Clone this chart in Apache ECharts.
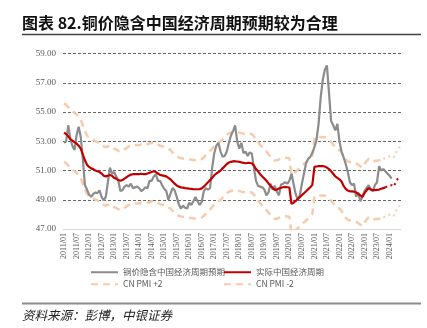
<!DOCTYPE html>
<html><head><meta charset="utf-8">
<script src="https://cdn.jsdelivr.net/npm/echarts@6/dist/echarts.min.js"></script>
<style>html,body{margin:0;padding:0;background:#fff}#c{width:427px;height:328px}</style>
</head><body><div id="c"></div>
<script>
// Monthly categories 2011/01 .. 2024/06
const categories = [];
for (let y = 2011; y <= 2024; y++) {
  for (let m = 1; m <= 12; m++) {
    if (y === 2024 && m > 6) break;
    categories.push(y + '/' + (m < 10 ? '0' + m : m));
  }
}
const yTicks = [47, 49, 51, 53, 55, 57, 59];

// 铜价隐含中国经济周期预期 (2011/01 .. 2024/02)
const copperImplied = [
  52.9, 53.0, 54.1, 53.2, 52.7, 52.4, 53.4, 54.0, 53.3, 51.8,
  50.0, 49.7, 49.35, 49.2, 49.4, 49.5, 49.45, 49.65, 49.2, 48.95,
  49.2, 50.2, 51.2, 50.8, 50.9, 50.6, 50.3, 49.6, 49.65, 49.9,
  50.0, 49.9, 50.1, 49.8, 49.85, 49.9, 49.8, 49.6, 49.7, 49.85,
  49.8, 50.3, 50.3, 50.6, 50.75, 50.3, 50.3, 50.0, 49.75, 49.6,
  49.0, 49.4, 49.8, 49.65, 49.2, 48.7, 48.4, 48.6, 48.45, 48.4,
  48.8, 48.65, 48.9, 49.2, 48.9, 48.65, 48.85, 49.6, 49.8, 49.7,
  49.8, 51.2, 52.2, 52.7, 52.9, 52.3, 51.95, 52.0, 52.3, 52.9,
  53.4, 53.7, 54.1, 53.0, 52.5, 52.9, 52.2, 52.3, 52.0, 52.25,
  52.15, 51.2, 50.3, 49.95, 49.9, 49.85, 49.7, 49.3, 49.5, 50.1,
  49.7, 49.95, 49.55, 49.3, 50.05, 50.1, 50.2, 50.1, 50.3, 50.8,
  50.1, 49.4, 49.0, 49.3, 50.1, 50.8, 51.5, 51.8, 51.95, 52.2,
  52.6, 53.1, 54.2, 56.0, 57.2, 57.9, 58.2, 56.3, 54.4, 54.1,
  53.75, 54.2, 53.0, 52.3, 51.9, 51.45, 50.9, 50.2, 50.0, 50.1,
  49.2, 49.5, 48.9, 49.2, 49.6, 49.8, 50.0, 49.7, 49.6, 50.0,
  50.2, 51.3, 51.0, 51.1, 50.95, 50.8, 50.65, 50.45
];

// 实际中国经济周期 (2011/01 .. 2023/11)
const actualCycle = [
  53.60, 53.50, 53.35, 53.15, 53.05, 52.95, 52.85, 52.70, 52.50, 52.10,
  51.70, 51.40, 51.25, 51.15, 51.10, 51.00, 50.95, 50.90, 50.80, 50.65,
  50.60, 50.65, 50.70, 50.65, 50.50, 50.45, 50.35, 50.30, 50.35, 50.45,
  50.55, 50.65, 50.72, 50.75, 50.75, 50.75, 50.75, 50.78, 50.75, 50.75,
  50.80, 50.85, 50.90, 50.95, 50.90, 50.80, 50.70, 50.67, 50.64, 50.60,
  50.50, 50.40, 50.25, 50.10, 49.98, 49.90, 49.85, 49.83, 49.80, 49.78,
  49.76, 49.75, 49.73, 49.72, 49.72, 49.73, 49.78, 49.90, 50.05, 50.20,
  50.35, 50.50, 50.68, 50.80, 50.90, 51.00, 51.15, 51.30, 51.45, 51.55,
  51.60, 51.63, 51.64, 51.62, 51.60, 51.56, 51.53, 51.50, 51.52, 51.52,
  51.50, 51.35, 51.10, 50.95, 50.75, 50.60, 50.45, 50.30, 50.12, 49.95,
  49.80, 49.68, 49.70, 49.77, 49.82, 49.86, 49.88, 49.86, 49.84, 48.72,
  48.80, 48.92, 49.05, 49.18, 49.32, 49.45, 49.58, 49.72, 49.86, 50.02,
  51.25, 51.28, 51.30, 51.30, 51.30, 51.28, 51.20, 51.10, 50.95, 50.78,
  50.60, 50.50, 50.40, 50.25, 49.95, 49.75, 49.63, 49.58, 49.57, 49.56,
  49.50, 49.40, 49.30, 49.20, 49.45, 49.65, 49.80, 49.70, 49.66, 49.66,
  49.68, 49.70, 49.75, 49.80, 49.85
];
// dotted continuation 2023/11 .. 2024/06
const actualCycleFcstStart = 154;
const actualCycleFcst = [49.85, 49.93, 49.98, 50.00, 49.90, 50.20, 50.45, 50.62];

// CN PMI +2 (2011/01 .. 2023/10)
const pmiPlus2 = [
  55.60, 55.50, 55.35, 55.15, 55.05, 54.95, 54.85, 54.70, 54.50, 54.10,
  53.70, 53.40, 53.25, 53.15, 53.10, 53.00, 52.95, 52.90, 52.80, 52.65,
  52.60, 52.65, 52.70, 52.65, 52.50, 52.45, 52.35, 52.30, 52.35, 52.45,
  52.55, 52.65, 52.72, 52.75, 52.75, 52.75, 52.75, 52.78, 52.75, 52.75,
  52.80, 52.85, 52.90, 52.95, 52.90, 52.80, 52.70, 52.67, 52.64, 52.60,
  52.50, 52.40, 52.25, 52.10, 51.98, 51.90, 51.85, 51.83, 51.80, 51.78,
  51.76, 51.75, 51.73, 51.72, 51.72, 51.73, 51.78, 51.90, 52.05, 52.20,
  52.35, 52.50, 52.68, 52.80, 52.90, 53.00, 53.15, 53.30, 53.45, 53.55,
  53.60, 53.63, 53.64, 53.62, 53.60, 53.56, 53.53, 53.50, 53.52, 53.52,
  53.50, 53.35, 53.10, 52.95, 52.75, 52.60, 52.45, 52.30, 52.12, 51.95,
  51.80, 51.68, 51.70, 51.77, 51.82, 51.86, 51.88, 51.86, 51.84, 50.72,
  50.80, 50.92, 51.05, 51.18, 51.32, 51.45, 51.58, 51.72, 51.86, 52.02,
  53.25, 53.28, 53.30, 53.30, 53.30, 53.28, 53.20, 53.10, 52.95, 52.78,
  52.60, 52.50, 52.40, 52.25, 51.95, 51.75, 51.63, 51.58, 51.57, 51.56,
  51.50, 51.40, 51.30, 51.20, 51.45, 51.65, 51.80, 51.70, 51.66, 51.66,
  51.68, 51.70, 51.75, 51.80
];
const pmiFcstStart = 153;
const pmiPlus2Fcst = [51.80, 51.85, 51.93, 51.98, 52.00, 51.90, 52.20, 52.45, 52.62];

// CN PMI -2 (2011/01 .. 2023/10)
const pmiMinus2 = [
  51.60, 51.50, 51.35, 51.15, 51.05, 50.95, 50.85, 50.70, 50.50, 50.10,
  49.70, 49.40, 49.25, 49.15, 49.10, 49.00, 48.95, 48.90, 48.80, 48.65,
  48.60, 48.65, 48.70, 48.65, 48.50, 48.45, 48.35, 48.30, 48.35, 48.45,
  48.55, 48.65, 48.72, 48.75, 48.75, 48.75, 48.75, 48.78, 48.75, 48.75,
  48.80, 48.85, 48.90, 48.95, 48.90, 48.80, 48.70, 48.67, 48.64, 48.60,
  48.50, 48.40, 48.25, 48.10, 47.98, 47.90, 47.85, 47.83, 47.80, 47.78,
  47.76, 47.75, 47.73, 47.72, 47.72, 47.73, 47.78, 47.90, 48.05, 48.20,
  48.35, 48.50, 48.68, 48.80, 48.90, 49.00, 49.15, 49.30, 49.45, 49.55,
  49.60, 49.63, 49.64, 49.62, 49.60, 49.56, 49.53, 49.50, 49.52, 49.52,
  49.50, 49.35, 49.10, 48.95, 48.75, 48.60, 48.45, 48.30, 48.12, 47.95,
  47.80, 47.68, 47.70, 47.77, 47.82, 47.86, 47.88, 47.86, 47.84, 46.72,
  46.80, 46.92, 47.05, 47.18, 47.32, 47.45, 47.58, 47.72, 47.86, 48.02,
  49.25, 49.28, 49.30, 49.30, 49.30, 49.28, 49.20, 49.10, 48.95, 48.78,
  48.60, 48.50, 48.40, 48.25, 47.95, 47.75, 47.63, 47.58, 47.57, 47.56,
  47.50, 47.40, 47.30, 47.20, 47.45, 47.65, 47.80, 47.70, 47.66, 47.66,
  47.68, 47.70, 47.75, 47.80
];
const pmiMinus2Fcst = [47.80, 47.85, 47.93, 47.98, 48.00, 47.90, 48.20, 48.45, 48.62];

function pad(start, arr) { return new Array(start).fill(null).concat(arr); }

const names = ['铜价隐含中国经济周期预期', '实际中国经济周期', 'CN PMI +2', 'CN PMI -2'];
const cGray = '#8c8c8c', cRed = '#c00000', cPeach = '#f8cbad';
const legendText = { color: '#595959', fontSize: 8.5, fontFamily: '"Noto Sans CJK SC", "Noto Sans", sans-serif' };
const legendBase = { top: 268, orient: 'vertical', itemWidth: 27, itemHeight: 10, itemGap: 3.5, padding: 0,
  itemStyle: { opacity: 0 }, textStyle: legendText };

const chart = echarts.init(document.getElementById('c'), null, { renderer: 'canvas' });
chart.setOption({
  animation: false,
  backgroundColor: '#fff',
  title: [
    { text: '图表 82.铜价隐含中国经济周期预期较为合理', left: 22, top: 15, padding: 0,
      textStyle: { fontSize: 16, fontWeight: 'bold', color: '#111', fontFamily: '"Noto Sans CJK SC", sans-serif' } },
    { text: '资料来源：彭博，中银证券', left: 22, top: 309, padding: 0,
      textStyle: { fontSize: 12.5, fontWeight: 'normal', fontStyle: 'italic', color: '#222', fontFamily: '"Noto Sans CJK SC", sans-serif' } }
  ],
  graphic: [
    { type: 'line', shape: { x1: 22, y1: 34.5, x2: 421, y2: 34.5 }, style: { stroke: '#404040', lineWidth: 1.5 } },
    { type: 'line', shape: { x1: 22, y1: 303.5, x2: 421, y2: 303.5 }, style: { stroke: '#8c8c8c', lineWidth: 2 } }
  ],
  legend: [
    Object.assign({ left: 90, data: [names[0], names[2]] }, legendBase),
    Object.assign({ left: 223, data: [names[1], names[3]] }, legendBase)
  ],
  grid: { left: 63, right: 26, top: 53.7, bottom: 99, containLabel: false },
  xAxis: {
    type: 'category', data: categories, boundaryGap: true,
    axisLine: { lineStyle: { color: '#d9d9d9', width: 1 } },
    axisTick: { show: false },
    axisLabel: { rotate: 90, interval: 5, fontSize: 8, margin: 4, color: '#595959',
      fontFamily: '"Liberation Serif", "DejaVu Serif", serif' },
    splitLine: { show: false }
  },
  yAxis: {
    type: 'value', min: yTicks[0], max: yTicks[yTicks.length - 1], interval: 2,
    axisLine: { show: false }, axisTick: { show: false },
    axisLabel: { formatter: v => v.toFixed(2), fontSize: 9, margin: 7, color: '#595959',
      fontFamily: '"Liberation Serif", "DejaVu Serif", serif' },
    splitLine: { show: true, showMinLine: false, lineStyle: { color: '#404040', type: [3, 2], width: 0.8 } }
  },
  series: [
    { name: names[2], type: 'line', data: pmiPlus2, symbol: 'none', z: 2,
      lineStyle: { color: cPeach, width: 2.5, type: [7, 5] }, itemStyle: { color: cPeach } },
    { name: names[3], type: 'line', data: pmiMinus2, symbol: 'none', z: 2,
      lineStyle: { color: cPeach, width: 2.5, type: [7, 5] }, itemStyle: { color: cPeach } },
    { name: 'pmiUpF', type: 'line', data: pad(pmiFcstStart, pmiPlus2Fcst), symbol: 'none', z: 2,
      lineStyle: { color: cPeach, width: 2, type: [2, 3.5] } },
    { name: 'pmiDnF', type: 'line', data: pad(pmiFcstStart, pmiMinus2Fcst), symbol: 'none', z: 2,
      lineStyle: { color: cPeach, width: 2, type: [2, 3.5] } },
    { name: names[0], type: 'line', data: copperImplied, symbol: 'none', z: 3,
      lineStyle: { color: cGray, width: 2.2 }, itemStyle: { color: cGray } },
    { name: names[1], type: 'line', data: actualCycle, symbol: 'none', z: 4,
      lineStyle: { color: cRed, width: 2.2 }, itemStyle: { color: cRed } },
    { name: 'actualF', type: 'line', data: pad(actualCycleFcstStart, actualCycleFcst), symbol: 'none', z: 4,
      lineStyle: { color: cRed, width: 2, type: [2, 3.5] } }
  ]
});
</script>
</body></html>
